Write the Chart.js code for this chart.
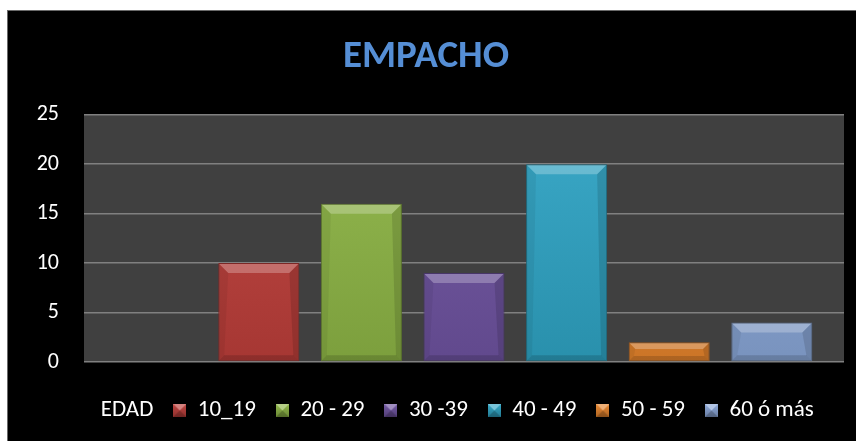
<!DOCTYPE html>
<html><head><meta charset="utf-8">
<script src="https://cdn.jsdelivr.net/npm/chart.js@4/dist/chart.umd.min.js"></script>
<style>
html,body{margin:0;padding:0;background:#fff;width:856px;height:441px;overflow:hidden}
#wrap{position:absolute;left:7px;top:10px;width:849px;height:431px;background:#000;border-left:1px solid #6a6a6a;border-top:1px solid #6a6a6a}
canvas{display:block}
</style></head><body>
<div id="wrap"><canvas id="c" width="848" height="430"></canvas></div>
<script>
const chartTitle = 'EMPACHO';
const categories = [''];
const seriesNames = ['EDAD', '10_19', '20 - 29', '30 -39', '40 - 49', '50 - 59', '60 ó más'];
const seriesValues = [null, 10, 16, 9, 20, 2, 4];
const seriesColors = [null, '#BD3E3A', '#8DB545', '#6E53A0', '#2FA4C4', '#E8852C', '#8AA7D8'];
const yTickValues = [0, 5, 10, 15, 20, 25];

const FONT = "Carlito, Calibri, Lato, 'Open Sans', sans-serif";

function shade(hex, f) {
  const n = parseInt(hex.slice(1), 16);
  let r = (n >> 16) & 255, g = (n >> 8) & 255, b = n & 255;
  const t = f < 0 ? 0 : 255, p = Math.abs(f);
  r = Math.round((t - r) * p + r); g = Math.round((t - g) * p + g); b = Math.round((t - b) * p + b);
  return `rgb(${r},${g},${b})`;
}

function makeMarker(color) {
  const c = document.createElement('canvas');
  c.width = 13; c.height = 13;
  const x = c.getContext('2d');
  if (color === null) return c;
  const g = x.createLinearGradient(0, 0, 0, 13);
  g.addColorStop(0, shade(color, 0.05)); g.addColorStop(1, shade(color, -0.25));
  x.fillStyle = g; x.fillRect(0, 0, 13, 13);
  x.fillStyle = shade(color, 0.35);
  x.beginPath(); x.moveTo(0, 0); x.lineTo(13, 0); x.lineTo(6.5, 6.5); x.closePath(); x.fill();
  x.fillStyle = 'rgba(0,0,0,0.2)';
  x.beginPath(); x.moveTo(0, 13); x.lineTo(13, 13); x.lineTo(6.5, 6.5); x.closePath(); x.fill();
  return c;
}
const markers = seriesColors.map(c => makeMarker(c));

const datasets = seriesNames.map((name, i) => ({
  label: name,
  data: [seriesValues[i]],
  backgroundColor: (ctx) => {
    const col = seriesColors[i];
    if (!col) return 'rgba(0,0,0,0)';
    const ch = ctx.chart, ca = ch.chartArea;
    if (!ca) return col;
    const g = ch.ctx.createLinearGradient(0, ca.top, 0, ca.bottom);
    g.addColorStop(0, shade(col, 0.06));
    g.addColorStop(1, shade(col, -0.12));
    return g;
  },
  borderColor: seriesColors[i] ? shade(seriesColors[i], -0.35) : 'rgba(0,0,0,0)',
  borderWidth: seriesColors[i] ? 1 : 0,
  borderSkipped: false,
  categoryPercentage: 0.945,
  barPercentage: 0.79
}));

const plotBg = {
  id: 'plotBg',
  beforeDraw(chart) {
    const { ctx, chartArea: a } = chart;
    ctx.save(); ctx.fillStyle = '#404040';
    ctx.fillRect(a.left, a.top, a.right - a.left, a.bottom - a.top);
    ctx.restore();
  }
};

const legendShift = {
  id: 'legendShift',
  afterLayout(chart) { if (chart.legend) chart.legend.left += 38; }
};

const bevel = {
  id: 'bevel',
  afterDatasetsDraw(chart) {
    const ctx = chart.ctx;
    const poly = (pts, fill) => {
      ctx.beginPath(); ctx.moveTo(pts[0][0], pts[0][1]);
      for (let k = 1; k < pts.length; k++) ctx.lineTo(pts[k][0], pts[k][1]);
      ctx.closePath(); ctx.fillStyle = fill; ctx.fill();
    };
    ctx.save();
    chart.data.datasets.forEach((ds, i) => {
      if (!seriesColors[i]) return;
      chart.getDatasetMeta(i).data.forEach(bar => {
        const p = bar.getProps(['x', 'y', 'base', 'width'], true);
        if (p.y == null || isNaN(p.y)) return;
        const l = p.x - p.width / 2 + 1, r = p.x + p.width / 2 - 1;
        const t = Math.min(p.y, p.base) + 1, b = Math.max(p.y, p.base) - 1;
        const h = b - t;
        const bv = Math.min(9, h / 3, p.width / 4);
        const bb = Math.min(5, h / 4);
        poly([[l, t], [r, t], [r - bv, t + bv], [l + bv, t + bv]], 'rgba(255,255,255,0.25)');
        poly([[l, t], [l + bv, t + bv], [l + bb, b - bb], [l, b]], 'rgba(0,0,0,0.06)');
        poly([[r, t], [r, b], [r - bb, b - bb], [r - bv, t + bv]], 'rgba(0,0,0,0.12)');
        poly([[l, b], [l + bb, b - bb], [r - bb, b - bb], [r, b]], 'rgba(0,0,0,0.15)');
      });
    });
    ctx.restore();
  }
};

new Chart(document.getElementById('c'), {
  type: 'bar',
  data: { labels: categories, datasets },
  options: {
    responsive: false,
    animation: false,
    layout: { padding: { left: 0, right: 12, top: 0, bottom: 9 } },
    plugins: {
      title: {
        display: true, text: chartTitle, color: '#558ED5',
        font: { family: FONT, size: 39, weight: 'bold' },
        padding: { top: 23, bottom: 34 }
      },
      legend: {
        position: 'bottom',
        labels: {
          color: '#ffffff',
          font: { family: FONT, size: 23 },
          usePointStyle: true, boxWidth: 13, boxHeight: 13, padding: 20,
          generateLabels: (chart) => chart.data.datasets.map((ds, i) => ({
            text: ds.label, datasetIndex: i, hidden: false,
            pointStyle: markers[i], fillStyle: 'transparent', strokeStyle: 'transparent',
            lineWidth: 0, fontColor: '#ffffff'
          }))
        }
      },
      tooltip: { enabled: false }
    },
    scales: {
      x: {
        display: true,
        grid: { display: false }, border: { display: false },
        ticks: { display: false },
        afterFit(s) { s.height = 17; }
      },
      y: {
        min: 0, max: 25,
        afterBuildTicks(s) { s.ticks = yTickValues.map(v => ({ value: v })); },
        afterFit(s) { s.width = 76; },
        grid: { color: '#808080', lineWidth: 1.5, drawTicks: false },
        border: { display: false },
        ticks: { color: '#ffffff', font: { family: FONT, size: 22 }, padding: 25 }
      }
    }
  },
  plugins: [plotBg, bevel, legendShift]
});
</script>
</body></html>
